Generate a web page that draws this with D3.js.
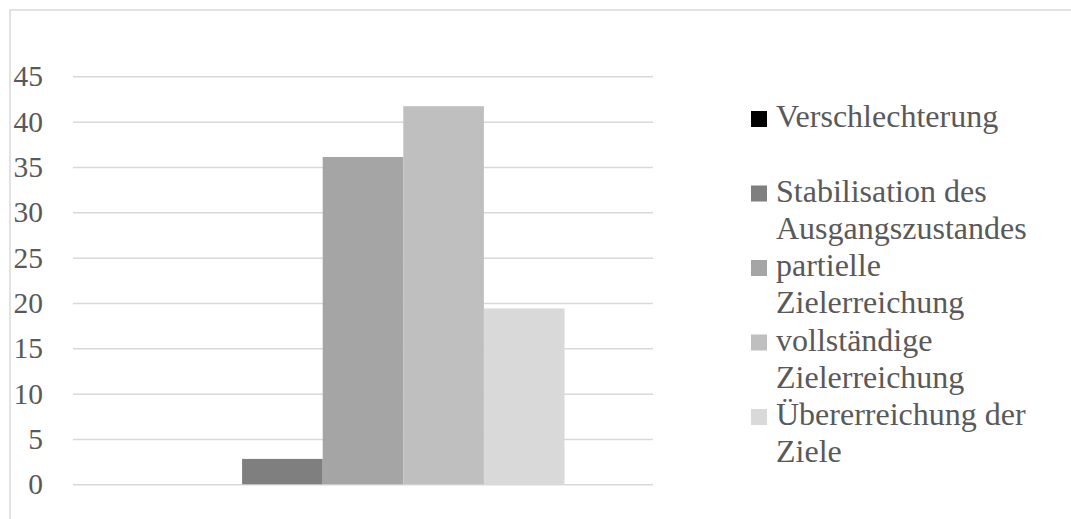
<!DOCTYPE html>
<html>
<head>
<meta charset="utf-8">
<script src="https://cdn.jsdelivr.net/npm/d3@7"></script>
<style>
  html, body { margin: 0; padding: 0; background: #fff; }
  svg { display: block; }
  svg text { font-family: "Liberation Serif", "Times New Roman", "DejaVu Serif", serif !important; fill: #595959; }
</style>
</head>
<body>
<svg id="chart" width="1071" height="519"></svg>
<script>
const categories = [""];
const seriesNames = [
  "Verschlechterung",
  "Stabilisation des Ausgangszustandes",
  "partielle Zielerreichung",
  "vollständige Zielerreichung",
  "Übererreichung der Ziele"
];
const legendLines = [
  ["Verschlechterung"],
  ["Stabilisation des", "Ausgangszustandes"],
  ["partielle", "Zielerreichung"],
  ["vollständige", "Zielerreichung"],
  ["Übererreichung der", "Ziele"]
];
const seriesValues = [0, 2.8, 36.1, 41.7, 19.4];
const seriesColors = ["#000000", "#7f7f7f", "#a5a5a5", "#bfbfbf", "#d9d9d9"];
const tickValues = [0, 5, 10, 15, 20, 25, 30, 35, 40, 45];

const FONT = "'Liberation Serif', 'Times New Roman', 'DejaVu Serif', serif";
const svg = d3.select("#chart");

// chart border
svg.append("rect")
  .attr("x", 10).attr("y", 10)
  .attr("width", 1080).attr("height", 540)
  .attr("fill", "none").attr("stroke", "#d9d9d9").attr("stroke-width", 1.5);

const plot = { left: 73, right: 653, top: 76.3, bottom: 484.3 };

const y = d3.scaleLinear().domain([0, 45]).range([plot.bottom, plot.top]);
const x0 = d3.scaleBand().domain(categories).range([plot.left, plot.right]).padding(0.18);
const x1 = d3.scaleBand().domain(seriesNames).range([0, x0.bandwidth()]).padding(0);

// y axis with gridlines
const yAxis = d3.axisLeft(y)
  .tickValues(tickValues)
  .tickSize(-(plot.right - plot.left))
  .tickPadding(30)
  .tickFormat(d3.format("d"));

const gAxis = svg.append("g")
  .attr("transform", `translate(${plot.left},0)`)
  .call(yAxis)
  .attr("font-family", FONT);
gAxis.select(".domain").remove();
gAxis.selectAll(".tick line").attr("stroke", "#d9d9d9").attr("stroke-width", 1.5);
gAxis.selectAll(".tick text")
  .attr("font-size", "29.5px")
  .attr("fill", "#595959")
  .style("font-family", FONT);

// bars
const data = seriesNames.map((s, i) => ({ series: s, value: seriesValues[i], color: seriesColors[i] }));
const g = svg.append("g").selectAll("g")
  .data(categories).join("g")
  .attr("transform", d => `translate(${x0(d)},0)`);
g.selectAll("rect")
  .data(data).join("rect")
  .attr("x", d => x1(d.series))
  .attr("y", d => y(d.value))
  .attr("width", x1.bandwidth())
  .attr("height", d => y(0) - y(d.value))
  .attr("fill", d => d.color);

// legend
const legendX = 751, legendFirstBaseline = 127, entryStep = 74.5, lineHeight = 37, sq = 16;
const leg = svg.append("g");
data.forEach((d, i) => {
  const base = legendFirstBaseline + i * entryStep;
  leg.append("rect")
    .attr("x", legendX).attr("y", base - sq)
    .attr("width", sq).attr("height", sq)
    .attr("fill", d.color);
  const t = leg.append("text")
    .attr("x", legendX + 25).attr("y", base)
    .attr("font-size", "32px")
    .style("font-family", FONT);
  legendLines[i].forEach((line, j) => {
    t.append("tspan")
      .attr("x", legendX + 25)
      .attr("y", base + j * lineHeight)
      .text(line);
  });
});
</script>
</body>
</html>
